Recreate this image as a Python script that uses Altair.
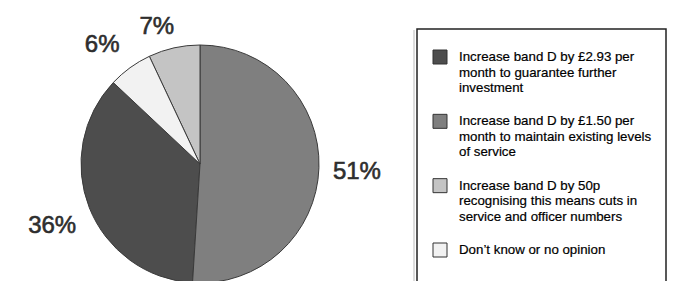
import altair as alt
import pandas as pd

# ---- data ----
categories = ["inc_293", "inc_150", "inc_50p", "dont_know"]
legend_labels = [
    "Increase band D by £2.93 per\nmonth to guarantee further\ninvestment",
    "Increase band D by £1.50 per\nmonth to maintain existing levels\nof service",
    "Increase band D by 50p\nrecognising this means cuts in\nservice and officer numbers",
    "Don’t know or no opinion",
]
values = [36, 51, 7, 6]          # percent
slice_order = [2, 1, 4, 3]       # clockwise order from 12 o'clock
colors = ["#4d4d4d", "#7f7f7f", "#c4c4c4", "#f2f2f2"]

df = pd.DataFrame({
    "category": categories,
    "label": legend_labels,
    "value": values,
    "slice_order": slice_order,
})

CX, CY, R = 192, 156, 119
FONT = "Liberation Sans"

color = alt.Color("category:N", scale=alt.Scale(domain=categories, range=colors), legend=None)
theta = alt.Theta("value:Q", stack=True)
order = alt.Order("slice_order:Q", sort="ascending")

base = alt.Chart(df)

pie = base.mark_arc(outerRadius=R, stroke="#3a3a3a", strokeWidth=1).encode(
    theta=theta, color=color, order=order, x=alt.value(CX), y=alt.value(CY)
)


def pct_layer(cat, radius, theta_offset=0.0, dy=0):
    return base.transform_calculate(
        pct=f"datum.category == '{cat}' ? datum.value + '%' : ''"
    ).mark_text(
        radius=radius, thetaOffset=theta_offset, dy=dy, fontSize=24, font=FONT,
        fill="#2e2e2e", stroke="#2e2e2e", strokeWidth=0.6,
        align="center", baseline="middle",
    ).encode(theta=theta, order=order, text="pct:N", x=alt.value(CX), y=alt.value(CY))


pct_layers = [
    pct_layer("inc_150", 157, 0.0, 3),
    pct_layer("inc_293", 159, 0.0, 3),
    pct_layer("inc_50p", 146, -0.08, 2),
    pct_layer("dont_know", 154, -0.06, 0),
]

# legend box + entries
box_df = pd.DataFrame({"box": [0]})
shadow = alt.Chart(box_df).mark_rect(fill="#dddddd").encode(
    x=alt.value(405), x2=alt.value(407), y=alt.value(22), y2=alt.value(300)
)
box = alt.Chart(box_df).mark_rect(fill="white", stroke="#222222", strokeWidth=1.5).encode(
    x=alt.value(409), x2=alt.value(658), y=alt.value(21), y2=alt.value(300)
)

ypos = alt.Y(
    "category:N",
    sort=categories,
    scale=alt.Scale(type="point", domain=categories, range=[53, 246], padding=0),
    axis=None,
)

squares = base.mark_square(size=196, stroke="#333333", strokeWidth=1, opacity=1, yOffset=-4).encode(
    x=alt.value(432), y=ypos, color=color
)

legend_text = base.mark_text(
    align="left", baseline="alphabetic", lineBreak="\n", fontSize=13.3, lineHeight=15.5,
    font=FONT, fill="#000000", stroke="#000000", strokeWidth=0.2,
).encode(x=alt.value(451), y=ypos, text="label:N")

chart = alt.layer(shadow, box, pie, *pct_layers, squares, legend_text).properties(
    width=668, height=273, autosize=alt.AutoSizeParams(type="none"), padding=0,
    background="white",
).configure_view(stroke=None)

chart.save("out.html", embed_options={"renderer": "svg", "actions": False})
